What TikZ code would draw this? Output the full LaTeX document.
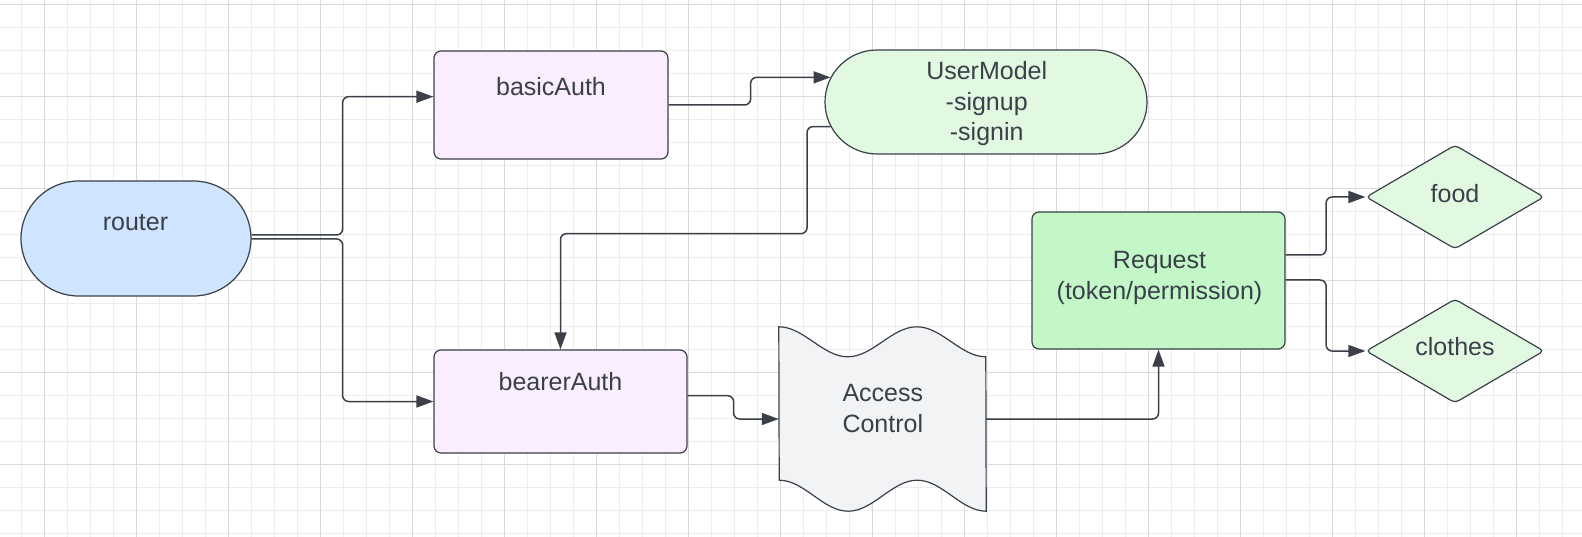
\documentclass[tikz,border=0pt]{standalone}
\usepackage{fontspec}
\setmainfont{Liberation Sans}
\usetikzlibrary{shapes.misc,shapes.geometric,arrows.meta}

\definecolor{inkline}{HTML}{3B4048}
\definecolor{inktext}{HTML}{3A4049}
\definecolor{routerblue}{HTML}{CFE4FF}
\definecolor{authpink}{HTML}{F9EDFF}
\definecolor{modelgreen}{HTML}{E1F9E1}
\definecolor{reqgreen}{HTML}{C3F7C8}
\definecolor{accgray}{HTML}{F2F3F5}
\definecolor{gridminor}{HTML}{EDEDED}
\definecolor{gridmajor}{HTML}{DADADA}

\tikzset{
  shapeline/.style={draw=inkline, line width=1.2pt},
  termbox/.style={shapeline, rounded rectangle, inner sep=0pt},
  authbox/.style={shapeline, rectangle, rounded corners=7pt, fill=authpink, inner sep=0pt},
  reqbox/.style={shapeline, rectangle, rounded corners=7pt, fill=reqgreen, inner sep=0pt},
  choice/.style={shapeline, diamond, rounded corners=4pt, fill=modelgreen, inner sep=0pt,
    minimum width=178pt, minimum height=104pt},
  txt/.style={text=inktext, font=\fontsize{25}{30.5}\selectfont, align=center, inner sep=0pt},
  link/.style={draw=inkline, line width=1.5pt, rounded corners=6pt,
    -{Triangle[length=17pt,width=12pt]}},
}

\begin{document}
\begin{tikzpicture}[x=1pt, y=1pt]
    \useasboundingbox (0,0) rectangle (1582,-537);
    \fill[white] (0,0) rectangle (1582,-537);
    % grid
    \foreach \i in {0,...,68}
        \draw[gridminor, line width=1pt] ({21.5+23*\i},0) -- ++(0,-537);
    \foreach \j in {0,...,23}
        \draw[gridminor, line width=1pt] (0,{-4.3-23*\j}) -- ++(1582,0);
    \foreach \i in {0,...,17}
        \draw[gridmajor, line width=1pt] ({44.5+92*\i},0) -- ++(0,-537);
    \foreach \j in {0,...,5}
        \draw[gridmajor, line width=1pt] (0,{-4.3-92*\j}) -- ++(1582,0);

    % shapes
    \node[termbox, fill=routerblue, minimum width=230pt, minimum height=115pt] (router) at (136,-238.5) {};
    \node[authbox, minimum width=234pt, minimum height=108pt] (basic) at (551,-105) {};
    \node[authbox, minimum width=253pt, minimum height=103pt] (bearer) at (560.5,-401.5) {};
    \node[termbox, fill=modelgreen, minimum width=322pt, minimum height=104pt] (user) at (986,-102) {};
    \node[inner sep=0pt, minimum width=207pt, minimum height=184pt] (acc) at (882.5,-419) {};
    \draw[shapeline, fill=accgray] (acc.north west)
        cos ++(34.5,-15) sin ++(34.5,-15) cos ++(34.5,15) sin ++(34.5,15)
        cos ++(34.5,-15) sin ++(34.5,-15) -- (acc.south east)
        cos ++(-34.5,15.5) sin ++(-34.5,15.5) cos ++(-34.5,-15.5) sin ++(-34.5,-15.5)
        cos ++(-34.5,15.5) sin ++(-34.5,15.5) -- cycle;
    \node[reqbox, minimum width=253pt, minimum height=137pt] (req) at (1158.5,-280.5) {};
    \node[choice] (food) at (1455,-197) {};
    \node[choice] (clothes) at (1455,-351) {};

    % connectors
    \draw[link] ([yshift=3.5pt]router.east) -- ++(91,0) |- ([yshift=8.3pt]basic.west);
    \draw[link] ([yshift=-0.5pt]router.east) -- ++(91,0) |- (bearer.west);
    \draw[link] (basic.east) -- ++(82,0) |- (user.171);
    \draw[link] (user.189) -- ++(-23.5,0) -- ++(0,-107) -| (bearer.north);
    \draw[link] ([yshift=5.8pt]bearer.east) -- ++(46,0) |- (acc.west);
    \draw[link] (acc.east) -| (req.south);
    \draw[link] ([yshift=25.5pt]req.east) -- ++(40.5,0) |- (food.west);
    \draw[link] ([yshift=0.5pt]req.east) -- ++(40.5,0) |- (clothes.west);

    % texts
    \node[txt, anchor=base] (router-t) at (135.5,-230.7) {router};
    \node[txt, anchor=base] (basic-t) at (551,-95.7) {basicAuth};
    \node[txt, anchor=base] (bearer-t) at (560.5,-390.7) {bearerAuth};
    \node[txt] (user-t) at (986.7,-104) {UserModel\\-signup\\-signin};
    \node[txt] (acc-t) at (882.8,-408.5) {Access\\Control};
    \node[txt] (req-t) at (1159.5,-278) {Request\\(token/permission)};
    \node[txt, anchor=base] (food-t) at (1455,-202.3) {food};
    \node[txt, anchor=base] (clothes-t) at (1455,-355.7) {clothes};
\end{tikzpicture}
\end{document}
